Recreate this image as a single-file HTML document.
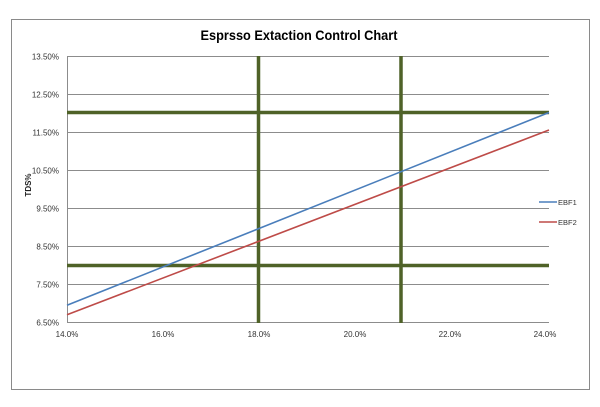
<!DOCTYPE html>
<html><head><meta charset="utf-8"><style>
html,body{margin:0;padding:0;background:#fff;}
svg{display:block;}
text{font-family:"Liberation Sans",sans-serif;}
</style></head><body>
<svg width="600" height="407" viewBox="0 0 600 407" xmlns="http://www.w3.org/2000/svg">
<rect x="0" y="0" width="600" height="407" fill="#fff"/>
<rect x="11.5" y="19.5" width="578" height="370" fill="#fff" stroke="#8a8a8a" stroke-width="1"/>
<text x="299" y="40" text-anchor="middle" font-size="13.5" font-weight="bold" fill="#000" textLength="197" lengthAdjust="spacingAndGlyphs">Esprsso Extaction Control Chart</text>
<!-- gridlines -->
<g stroke="#8c8c8c" stroke-width="1">
<line x1="67" y1="56.5" x2="549" y2="56.5"/>
<line x1="67" y1="94.5" x2="549" y2="94.5"/>
<line x1="67" y1="132.5" x2="549" y2="132.5"/>
<line x1="67" y1="170.5" x2="549" y2="170.5"/>
<line x1="67" y1="208.5" x2="549" y2="208.5"/>
<line x1="67" y1="246.5" x2="549" y2="246.5"/>
<line x1="67" y1="284.5" x2="549" y2="284.5"/>
<line x1="67" y1="322.5" x2="549" y2="322.5"/>
<line x1="67.5" y1="56" x2="67.5" y2="323"/>
</g>
<!-- y labels -->
<g font-size="8" fill="#333" text-anchor="end">
<text x="59" y="59.5">13.50%</text>
<text x="59" y="97.5">12.50%</text>
<text x="59" y="135.5">11.50%</text>
<text x="59" y="173.5">10.50%</text>
<text x="59" y="211.5">9.50%</text>
<text x="59" y="249.5">8.50%</text>
<text x="59" y="287.5">7.50%</text>
<text x="59" y="325.5">6.50%</text>
</g>
<text transform="translate(31,185) rotate(-90)" font-size="8" fill="#222" text-anchor="middle" font-weight="bold">TDS%</text>
<!-- x labels -->
<g font-size="8" fill="#333" text-anchor="middle">
<text x="67" y="337">14.0%</text>
<text x="163" y="337">16.0%</text>
<text x="259" y="337">18.0%</text>
<text x="355" y="337">20.0%</text>
<text x="450" y="337">22.0%</text>
<text x="545" y="337">24.0%</text>
</g>
<!-- control lines -->
<g stroke="#4f6228" stroke-width="3.5">
<line x1="67" y1="112.5" x2="549" y2="112.5"/>
<line x1="67" y1="265.5" x2="549" y2="265.5"/>
<line x1="258.5" y1="56" x2="258.5" y2="323"/>
<line x1="401" y1="56" x2="401" y2="323"/>
</g>
<!-- series -->
<line x1="67" y1="305.3" x2="549" y2="112.5" stroke="#4a7ebb" stroke-width="1.6"/>
<line x1="67" y1="314.8" x2="549" y2="130" stroke="#be4b48" stroke-width="1.6"/>
<!-- legend -->
<line x1="539" y1="202" x2="557" y2="202" stroke="#4a7ebb" stroke-width="1.6"/>
<text x="558" y="205" font-size="7.5" fill="#333">EBF1</text>
<line x1="539" y1="222" x2="557" y2="222" stroke="#be4b48" stroke-width="1.6"/>
<text x="558" y="225" font-size="7.5" fill="#333">EBF2</text>
</svg>
</body></html>
